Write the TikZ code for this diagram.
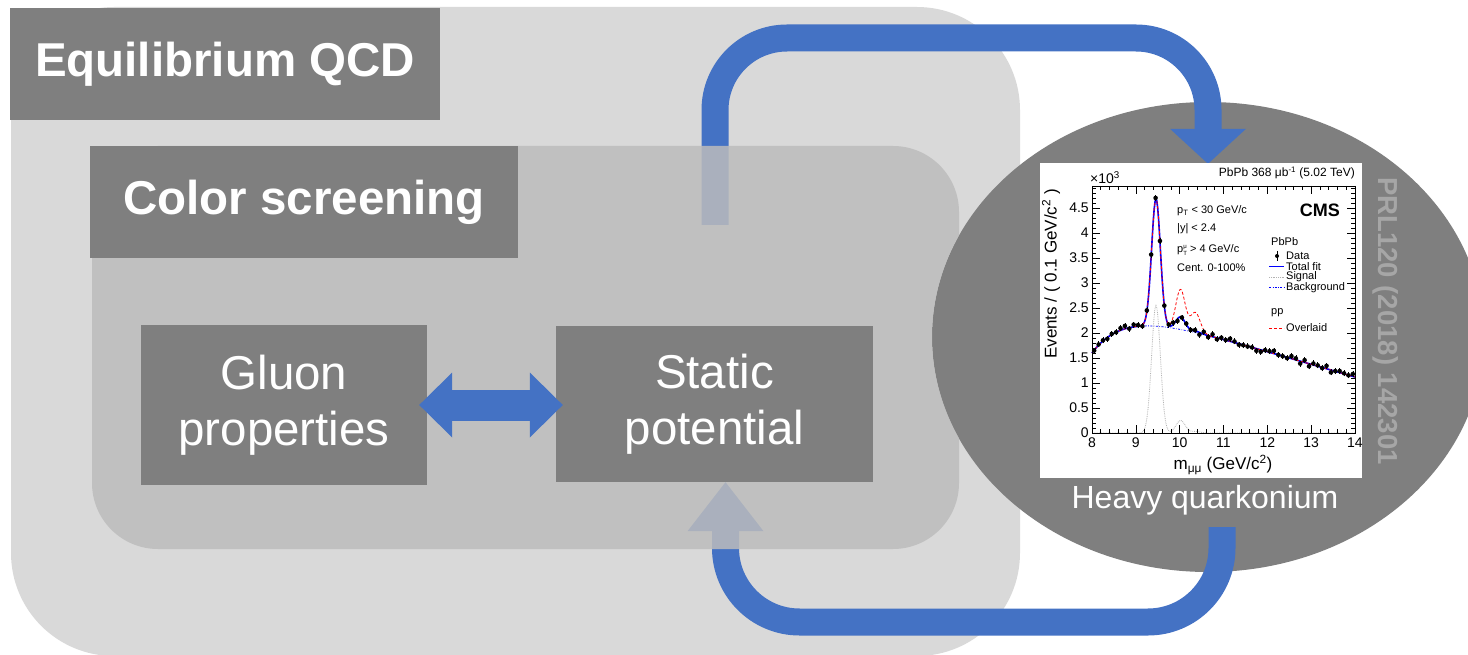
\documentclass[tikz,border=0pt]{standalone}
\usepackage{fontspec}
\setmainfont{Liberation Sans}
\usetikzlibrary{arrows.meta,shapes.geometric,backgrounds}

\definecolor{hellgrau}{RGB}{217,217,217}
\definecolor{mittelgrau}{RGB}{188,188,188}
\definecolor{dunkelgrau}{RGB}{127,127,127}
\definecolor{blau}{RGB}{68,114,196}
\definecolor{quellgrau}{RGB}{166,166,166}

\tikzset{
    titel/.style={fill=dunkelgrau, text=white, inner sep=0pt, minimum height=112pt,
        font=\fontsize{47.5}{56}\selectfont\bfseries},
    kasten/.style={fill=dunkelgrau, text=white, inner sep=0pt, align=center,
        font=\fontsize{47.5}{56}\selectfont},
    fluss/.style={draw=blau, line width=27pt, rounded corners=72pt},
    zahl/.style={font=\fontsize{14}{16}\selectfont, inner sep=0pt},
    achse/.style={font=\fontsize{17}{20}\selectfont, inner sep=0pt},
    klein/.style={font=\fontsize{11}{13}\selectfont, inner sep=0pt, anchor=west},
    bkglinie/.style={blue, line width=0.8pt, dash pattern=on 2pt off 1.5pt on 0.6pt off 1.5pt},
    ppline/.style={red, line width=0.8pt, dash pattern=on 3pt off 2pt},
    signallinie/.style={black!30, densely dotted, line width=0.8pt},
    declare function={
        gau(\x,\mitte,\breite)=exp(-min((\x-\mitte)^2/(2*\breite*\breite),15));
        bkg(\x)=(2.65-0.255*(\x-8))*(1-0.396*exp(-1.27*(\x-8)));
        sigpb(\x)=2.55*gau(\x,9.46,0.1)+0.25*gau(\x,10.02,0.106)+0.03*gau(\x,10.36,0.11);
        sigpp(\x)=2.55*gau(\x,9.46,0.1)+0.8*gau(\x,10.02,0.106)+0.4*gau(\x,10.36,0.11);
    }
}

\begin{document}
\begin{tikzpicture}[x=1pt,y=-1pt]
    \useasboundingbox (0,0) rectangle (1468,655);

    % Titel
    \node[titel, minimum width=430pt] (gleichgewicht) at (225,64) {Equilibrium QCD};
    \node[titel, minimum width=428pt] (abschirmung) at (304,202) {Color screening};

    % Kaesten
    \node[kasten, minimum width=286pt, minimum height=160pt] (gluon) at (284,405) {Gluon\\properties};
    \node[kasten, minimum width=317pt, minimum height=156pt] (statisch) at (714.5,404) {Static\\potential};
    \draw[blau, line width=31pt, {Triangle[width=65pt,length=33pt,line width=0pt]}-{Triangle[width=65pt,length=33pt,line width=0pt]}]
        ([xshift=-8pt]gluon.east) -- ([xshift=7pt]statisch.west |- gluon.east);

    % Bild
    \node[fill=white, minimum width=322pt, minimum height=315pt, inner sep=0pt] (bild) at (1201,320.5) {};
    \node[text=white, font=\fontsize{32}{38}\selectfont] (quarkonium) at (1205,500) {Heavy quarkonium};
    \node[rotate=-90, text=quellgrau, font=\fontsize{27.5}{33}\selectfont\bfseries] (quelle) at (1386,321) {PRL120 (2018) 142301};

    % Spektrum
    \begin{scope}[shift={(1092,433)}, x=43.83pt, y=50pt]
        \draw[signallinie] plot[domain=8:14, samples=301] ({\x-8},{sigpb(\x)});
        \draw[bkglinie] plot[domain=8:14, samples=61] ({\x-8},{bkg(\x)});
        \draw[blue, line width=1.6pt] plot[domain=8:14, samples=301] ({\x-8},{bkg(\x)+sigpb(\x)});
        \draw[ppline] plot[domain=8:14, samples=301] ({\x-8},{bkg(\x)+sigpp(\x)});
        % Daten
        \pgfmathsetseed{7}
        \foreach \i in {0,...,59} {
            \pgfmathsetmacro\mx{8.05+0.1*\i}
            \pgfmathsetmacro\my{bkg(\mx)+sigpb(\mx)+0.06*rand}
            \draw[line width=0.6pt] (\mx-8,\my-0.06) -- (\mx-8,\my+0.06);
            \fill (\mx-8,\my) circle (2.3pt);
        }
        % Rahmen
        \draw[line width=0.7pt] (0,0) rectangle (6,4.94);
        \foreach \t in {8,...,14} {
            \draw[line width=0.6pt] (\t-8,0) -- ++(0pt,8pt) (\t-8,4.94) -- ++(0pt,-8pt);
            \node[zahl, anchor=north] (xt\t) at (\t-8,-0.1) {\t};
        }
        \foreach \t in {0.2,0.4,...,5.8}
            \draw[line width=0.6pt] (\t,0) -- ++(0pt,4pt) (\t,4.94) -- ++(0pt,-4pt);
        \foreach \v [count=\k] in {0,0.5,1,1.5,2,2.5,3,3.5,4,4.5} {
            \draw[line width=0.6pt] (0,\v) -- ++(8pt,0pt) (6,\v) -- ++(-8pt,0pt);
            \node[zahl, anchor=east] (yt\k) at (-0.07,\v) {\v};
        }
        \foreach \v in {0.1,0.2,...,4.9}
            \draw[line width=0.6pt] (0,\v) -- ++(4pt,0pt) (6,\v) -- ++(-4pt,0pt);
    \end{scope}

    % Beschriftung Spektrum
    \node[zahl, anchor=west] (faktor) at (1090,178) {×10\textsuperscript{3}};
    \node[anchor=east, inner sep=0pt, font=\fontsize{12}{14}\selectfont] (lumi) at (1355,173) {PbPb 368 μb\textsuperscript{-1} (5.02 TeV)};
    \node[anchor=east, inner sep=0pt, font=\fontsize{18}{20}\selectfont\bfseries] (cms) at (1340,210) {CMS};
    \node[klein] (schnitt1) at (1177,211) {p\textsubscript{T} < 30 GeV/c};
    \node[klein] (schnitt2) at (1177,229) {|y| < 2.4};
    \node[klein] (schnitt3) at (1177,250) {p\rlap{\raisebox{4.5pt}{\fontsize{6}{6}\selectfont μ}}\raisebox{-2.5pt}{\fontsize{6}{6}\selectfont T} > 4 GeV/c};
    \node[klein] (schnitt4) at (1177,268) {Cent. 0-100\%};
    \node[klein] (legpb) at (1271,242) {PbPb};
    \node[klein] (legdaten) at (1286,256) {Data};
    \node[klein] (legfit) at (1286,266.5) {Total fit};
    \node[klein] (legsignal) at (1286,277) {Signal};
    \node[klein] (legbkg) at (1286,287.5) {Background};
    \node[klein] (legpp) at (1271,313) {pp};
    \node[klein] (legover) at (1286,328) {Overlaid};
    \fill (1277,256) circle (2pt);
    \draw[line width=0.6pt] (1277,251) -- (1277,261);
    \draw[blue, line width=1.6pt] (1269,266.5) -- (1284,266.5);
    \draw[signallinie] (1269,277) -- (1284,277);
    \draw[bkglinie] (1269,287.5) -- (1284,287.5);
    \draw[ppline] (1269,328) -- (1284,328);
    \node[achse, rotate=90] (ytitel) at (1051,274) {Events / ( 0.1 GeV/c\textsuperscript{2} )};
    \node[achse] (xtitel) at (1223,465) {m\textsubscript{μμ} (GeV/c\textsuperscript{2})};

    % Hintergrund
    \begin{pgfonlayer}{background}
        \fill[hellgrau, rounded corners=103pt] (11,7) rectangle (1020,656);
        \node[ellipse, fill=dunkelgrau, minimum width=552pt, minimum height=470pt, inner sep=0pt] (oval) at (1208,337) {};
        \coordinate (hin) at (715,225);
        \coordinate (rueck) at (1222,527);
        \draw[fluss, -{Triangle[width=76pt,length=35pt,line width=0pt]}] (hin) -- (715,38) -| ([yshift=-62pt]oval.north);
        \draw[fluss, rounded corners=74pt, -{Triangle[width=76pt,length=49pt,line width=0pt]}] (rueck) -- (1222,622) -| ([xshift=11pt]statisch.south);
        % innere Flaeche, durchscheinend
        \begin{scope}
            \clip (-5,-5) -- (1208,-5) -- (oval.north) arc[start angle=90, end angle=270, x radius=276pt, y radius=235pt] -- (1208,665) -- (-5,665) -- cycle;
            \fill[mittelgrau, opacity=.85, rounded corners=66pt] (92,146) rectangle (959,549);
        \end{scope}
    \end{pgfonlayer}
\end{tikzpicture}
\end{document}
